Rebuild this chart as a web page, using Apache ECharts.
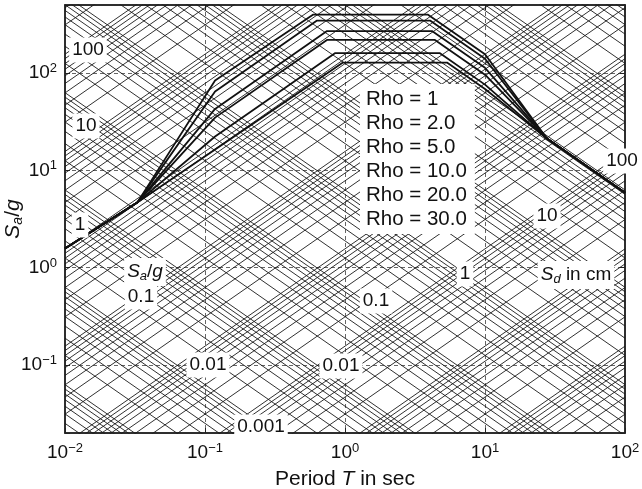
<!DOCTYPE html>
<html><head><meta charset="utf-8">
<script src="https://cdn.jsdelivr.net/npm/echarts@6/dist/echarts.min.js"></script>
<style>html,body{margin:0;padding:0;background:#fff}#c{width:642px;height:489px}</style>
</head><body><div id="c"></div>
<script>
// ---- data ----
const periodRange = [0.01, 100];      // T (s)
const valueRange = [0.02, 500];       // y axis range
const gravity = 981;                  // cm/s^2
const gridMantissas = [1, 2, 3, 4, 5, 6, 7, 8, 9];
const sdDecades = [1e-5, 1e-4, 1e-3, 1e-2, 1e-1, 1, 10, 100, 1000];   // Sd in cm
const saDecades = [1e-6, 1e-5, 1e-4, 1e-3, 1e-2, 1e-1, 1, 10, 100];   // Sa/g
const rhoNames = ['Rho = 1', 'Rho = 2.0', 'Rho = 5.0', 'Rho = 10.0', 'Rho = 20.0', 'Rho = 30.0'];
const rho1  = [[0.01,1.57],[0.0328,4.66],[0.118,83.6],[0.59,398],[3.92,398],[10,156],[27.7,21.2],[100,5.9]];
const rho2  = [[0.01,1.57],[0.0328,4.66],[0.118,64.5],[0.631,346],[4.05,346],[10,140],[27.7,21.2],[100,5.9]];
const rho5  = [[0.01,1.57],[0.0328,4.66],[0.118,42.8],[0.744,270],[4.18,270],[10,113],[27.7,21.2],[100,5.9]];
const rho10 = [[0.01,1.57],[0.0328,4.66],[0.118,34.8],[0.743,219],[4.39,219],[10,96],[27.7,21.2],[100,5.9]];
const rho20 = [[0.01,1.57],[0.0328,4.66],[0.118,22.3],[0.847,160],[4.77,160],[10,76],[27.7,21.2],[100,5.9]];
const rho30 = [[0.01,1.57],[0.0328,4.66],[0.967,128],[5.35,128],[10,68.5],[27.7,21.2],[100,5.9]];
const rhoCurves = [rho1, rho2, rho5, rho10, rho20, rho30];

// ---- chart ----
const FONT = 'Liberation Sans, Arial, sans-serif';
const INK = '#111';
const chart = echarts.init(document.getElementById('c'));

function powLabel(v) {
  const e = Math.log10(v);
  const r = Math.round(e);
  if (Math.abs(e - r) > 1e-6) return '';
  return '{b|10}{s|' + (r < 0 ? '\u2212' + (-r) : r) + '}';
}
const powRich = {
  b: { fontSize: 19, fontFamily: FONT, color: INK, lineHeight: 22 },
  s: { fontSize: 13, fontFamily: FONT, color: INK, verticalAlign: 'top', lineHeight: 14 }
};

const series = [];
// constant displacement lines: v = 2*pi*D / T
sdDecades.forEach(d => gridMantissas.forEach(m => {
  const D = m * d;
  series.push({
    type: 'line', silent: true, symbol: 'none', animation: false, z: 1,
    lineStyle: { color: '#1a1a1a', width: 0.9 },
    data: periodRange.map(T => [T, 2 * Math.PI * D / T])
  });
}));
// constant acceleration lines: v = A*g*T / (2*pi)
saDecades.forEach(a => gridMantissas.forEach(m => {
  const A = m * a;
  series.push({
    type: 'line', silent: true, symbol: 'none', animation: false, z: 1,
    lineStyle: { color: '#1a1a1a', width: 0.9 },
    data: periodRange.map(T => [T, A * gravity * T / (2 * Math.PI)])
  });
}));
rhoCurves.forEach((c, i) => {
  series.push({
    name: rhoNames[i], type: 'line', symbol: 'none', animation: false, z: 3,
    color: '#111',
    lineStyle: { color: '#111', width: 1.8 },
    data: c
  });
});

const LS = 19;
function label(text, cx, cy, rich) {
  return {
    type: 'text', z: 100, x: cx, y: cy,
    style: {
      text: text, fontSize: LS, fontFamily: FONT, fill: INK,
      align: 'center', verticalAlign: 'middle',
      backgroundColor: '#fff', padding: [3, 3, 3, 3],
      rich: rich || {}
    }
  };
}
const italRich = {
  i: { fontSize: LS, fontFamily: FONT, fontStyle: 'italic', fill: INK, color: INK, lineHeight: 22 },
  n: { fontSize: LS, fontFamily: FONT, fill: INK, color: INK, lineHeight: 22 },
  sub: { fontSize: 13, fontFamily: FONT, fontStyle: 'italic', fill: INK, color: INK, verticalAlign: 'bottom', lineHeight: 12 }
};
const nameRich = {
  i: { fontSize: 21, fontFamily: FONT, fontStyle: 'italic', color: INK, lineHeight: 24 },
  n: { fontSize: 21, fontFamily: FONT, color: INK, lineHeight: 24 },
  sub: { fontSize: 14, fontFamily: FONT, fontStyle: 'italic', color: INK, verticalAlign: 'bottom', lineHeight: 13 }
};

const axisCommon = {
  type: 'log', logBase: 10,
  axisLine: { show: true, lineStyle: { color: '#222', width: 1.5 } },
  axisTick: { show: true, inside: true, length: 5, lineStyle: { color: '#222', width: 1 } },
  minorTick: { show: false },
  splitLine: { show: false },
  nameMoveOverlap: false
};

chart.setOption({
  animation: false,
  backgroundColor: '#fff',
  grid: { left: 65, right: 17, top: 5, bottom: 56, show: true, borderColor: '#222', borderWidth: 1.5, outerBoundsMode: 'none' },
  legend: {
    data: rhoNames, orient: 'vertical', left: 360, top: 84,
    itemWidth: 0, itemHeight: 0, itemGap: 3, icon: 'rect',
    padding: [5, 8, 4, 1], backgroundColor: '#fff', z: 50,
    textStyle: { fontSize: 20.5, fontFamily: FONT, color: INK, lineHeight: 21 }
  },
  xAxis: [
    Object.assign({}, axisCommon, {
      min: periodRange[0], max: periodRange[1], position: 'bottom',
      axisLabel: { formatter: powLabel, rich: powRich, margin: 9 },
      splitLine: { show: true, lineStyle: { color: '#555', width: 0.9, type: [4, 3] } },
      name: '{n|Period }{i|T}{n| in sec}', nameLocation: 'middle', nameGap: 34,
      nameTextStyle: { fontSize: 21, fontFamily: FONT, color: INK, rich: nameRich }
    }),
    Object.assign({}, axisCommon, {
      min: periodRange[0], max: periodRange[1], position: 'top',
      axisLabel: { show: false }
    })
  ],
  yAxis: [
    Object.assign({}, axisCommon, {
      min: valueRange[0], max: valueRange[1], position: 'left',
      axisLabel: { formatter: powLabel, rich: powRich, margin: 8 },
      splitLine: { show: true, lineStyle: { color: '#555', width: 0.9, type: [4, 3] } },
      name: '{i|S}{sub|a}{n|/}{i|g}', nameLocation: 'middle', nameGap: 40, nameRotate: 90,
      nameTextStyle: { fontSize: 21, fontFamily: FONT, color: INK, rich: nameRich }
    }),
    Object.assign({}, axisCommon, {
      min: valueRange[0], max: valueRange[1], position: 'right',
      axisLabel: { show: false }
    })
  ],
  graphic: [
    label('100', 88, 50),
    label('10', 86, 126),
    label('1', 80, 225),
    label('{i|S}{sub|a}{n|/}{i|g}', 145, 272, italRich),
    label('0.1', 141, 297),
    label('0.01', 208, 365),
    label('0.001', 261, 427),
    label('0.01', 341, 366),
    label('0.1', 376, 301),
    label('1', 465, 274),
    label('{i|S}{sub|d}{n| in cm}', 576, 275, italRich),
    label('10', 547, 216),
    label('100', 622, 161)
  ],
  series: series
});
</script>
</body></html>
